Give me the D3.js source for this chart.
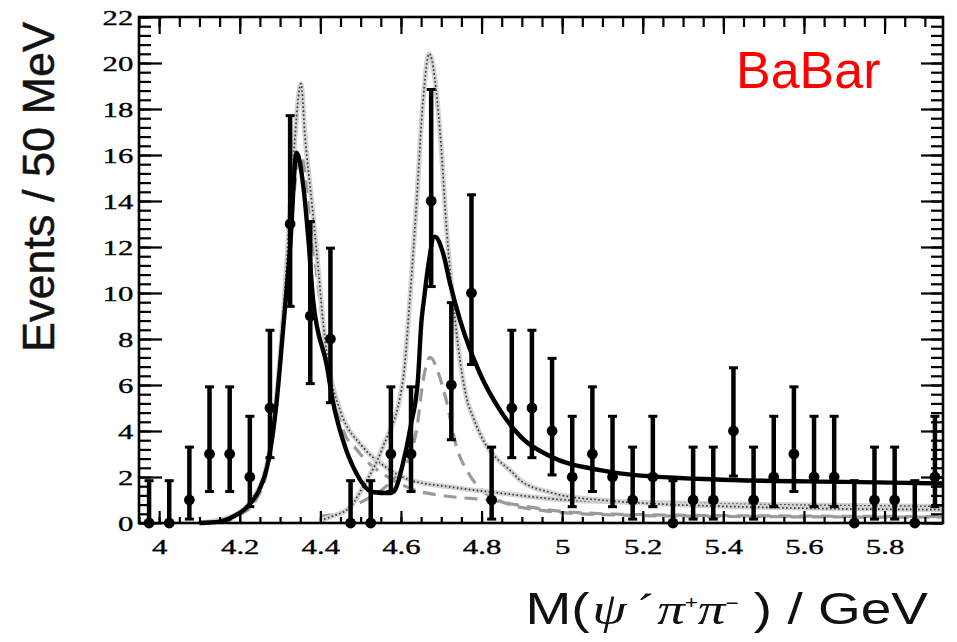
<!DOCTYPE html>
<html>
<head>
<meta charset="utf-8">
<script src="https://cdn.jsdelivr.net/npm/d3@7"></script>
<style>
  html, body { margin: 0; padding: 0; background: #fff; }
  svg { display: block; }
</style>
</head>
<body>
<svg id="chart" width="957" height="642"></svg>
<script>
// ψ(2S)π+π− invariant-mass spectrum, 50 MeV bins
const binCenters = [3.975, 4.025, 4.075, 4.125, 4.175, 4.225, 4.275, 4.325, 4.375, 4.425,
                    4.475, 4.525, 4.575, 4.625, 4.675, 4.725, 4.775, 4.825, 4.875, 4.925,
                    4.975, 5.025, 5.075, 5.125, 5.175, 5.225, 5.275, 5.325, 5.375, 5.425,
                    5.475, 5.525, 5.575, 5.625, 5.675, 5.725, 5.775, 5.825, 5.875, 5.925];
const counts     = [0, 0, 1, 3, 3, 2, 5, 13, 9, 8,
                    0, 0, 3, 3, 14, 6, 10, 1, 5, 5,
                    4, 2, 3, 2, 1, 2, 0, 1, 1, 4,
                    1, 2, 3, 2, 2, 0, 1, 1, 0, 2];
// upper / lower ends of the error bars
const errTop     = [1.84, 1.84, 3.30, 5.92, 5.92, 4.64, 8.38, 17.71, 13.11, 11.95,
                    1.84, 1.84, 5.92, 5.92, 18.85, 9.58, 14.27, 3.30, 8.38, 8.38,
                    7.16, 4.64, 5.92, 4.64, 3.30, 4.64, 1.84, 3.30, 3.30, 6.75,
                    3.30, 4.64, 5.92, 4.64, 4.64, 1.84, 3.30, 3.30, 1.84, 4.64];
const errBottom  = [0, 0, 0.17, 1.37, 1.37, 0.71, 2.84, 9.42, 6.06, 5.23,
                    0, 0, 1.37, 1.37, 10.28, 3.62, 6.89, 0.17, 2.84, 2.84,
                    2.09, 0.71, 1.37, 0.71, 0.17, 0.71, 0, 0.17, 0.17, 2.04,
                    0.17, 0.71, 1.37, 0.71, 0.71, 0, 0.17, 0.17, 0, 0.71];

// fitted curves, sampled as [mass, events]
const fitTotal = [[4.10,0.0],[4.15,0.06],[4.183,0.27],[4.223,0.78],[4.25,1.5],[4.268,2.45],[4.292,5.35],
  [4.307,8.3],[4.325,12.0],[4.341,16.1],[4.358,14.6],[4.37,12.4],[4.382,9.7],[4.4165,6.8],[4.431,5.3],
  [4.456,3.6],[4.489,2.17],[4.529,1.35],[4.573,1.3],[4.585,1.43],[4.605,2.6],[4.625,4.3],[4.642,6.2],
  [4.651,8.8],[4.657,9.7],[4.667,11.1],[4.684,12.45],[4.705,11.7],[4.722,10.4],[4.747,8.8],[4.796,6.5],
  [4.846,4.9],[4.9,3.7],[4.97,2.9],[5.094,2.3],[5.176,2.09],[5.424,1.87],[5.7,1.79],[5.945,1.72]];
const peak1Dotted = [[4.10,0.0],[4.183,0.3],[4.223,0.85],[4.268,2.6],[4.292,5.6],[4.31,9.6],[4.33,15.0],
  [4.352,19.1],[4.362,16.8],[4.379,13.9],[4.395,11.0],[4.407,8.7],[4.424,6.5],[4.449,4.9],[4.506,3.3],
  [4.565,2.4],[4.622,1.87],[4.722,1.57],[4.846,1.3],[5.012,1.0],[5.25,0.88],[5.5,0.8],[5.945,0.72]];
const peak2Dotted = [[4.40,0.1],[4.424,0.26],[4.474,0.7],[4.506,1.57],[4.555,3.3],[4.605,6.2],[4.622,9.7],
  [4.639,14.0],[4.655,18.4],[4.67,20.4],[4.697,17.0],[4.714,12.6],[4.729,9.7],[4.764,5.35],[4.779,4.6],
  [4.814,3.3],[4.838,2.8],[4.878,2.17],[4.895,1.87],[4.977,1.3],[5.094,1.0],[5.5,0.68],[5.945,0.58]];
const peak1Dashed = [[4.15,0.0],[4.20,0.35],[4.24,1.0],[4.27,2.5],[4.29,5.3],[4.31,9.0],[4.33,13.5],
  [4.35,16.0],[4.365,15.0],[4.38,12.5],[4.40,9.5],[4.42,7.0],[4.44,5.2],[4.46,3.9],[4.49,3.2],[4.52,2.6],
  [4.55,2.2],[4.58,1.87],[4.64,1.4],[4.70,1.2],[4.75,1.1],[4.82,1.0],[4.90,0.75],[5.0,0.5],[5.2,0.36],
  [5.6,0.3],[5.945,0.28]];
const peak2Dashed = [[4.40,0.3],[4.45,0.45],[4.50,0.9],[4.55,1.4],[4.60,2.3],[4.625,3.0],[4.64,4.2],
  [4.655,6.2],[4.672,7.2],[4.697,6.3],[4.71,5.5],[4.738,3.3],[4.77,2.1],[4.81,1.3],[4.87,0.8],[4.95,0.55],
  [5.05,0.4],[5.3,0.3],[5.945,0.25]];

const xMajor = [4.0, 4.2, 4.4, 4.6, 4.8, 5.0, 5.2, 5.4, 5.6, 5.8];
const xMajorLabels = ["4", "4.2", "4.4", "4.6", "4.8", "5", "5.2", "5.4", "5.6", "5.8"];
const yMajor = [0, 2, 4, 6, 8, 10, 12, 14, 16, 18, 20, 22];

(function draw() {
  const svg = d3.select("#chart");
  const frame = { left: 139, right: 943, top: 17, bottom: 523 };

  const x = d3.scaleLinear().domain([3.95, 5.945]).range([frame.left, frame.right]);
  const y = d3.scaleLinear().domain([0, 22]).range([frame.bottom, frame.top]);

  const xMinor = d3.range(80).map(i => 3.95 + i * 0.05).filter(v => v <= 5.945 + 1e-9);
  const yMinor = d3.range(56).map(i => i * 0.4).filter(v => v <= 22 + 1e-9);

  const plot = svg.append("g");

  // ---- curves ----
  const line = d3.line().x(d => x(d[0])).y(d => y(d[1])).curve(d3.curveMonotoneX);

  function dashedCurve(data) {
    plot.append("path").attr("d", line(data)).attr("fill", "none")
      .attr("stroke", "#9a9a9a").attr("stroke-width", 3.2)
      .attr("stroke-dasharray", "13,8");
  }
  function dottedCurve(data) {
    plot.append("path").attr("d", line(data)).attr("fill", "none")
      .attr("stroke", "#d2d2d2").attr("stroke-width", 5);
    plot.append("path").attr("d", line(data)).attr("fill", "none")
      .attr("stroke", "#383838").attr("stroke-width", 1.7)
      .attr("stroke-dasharray", "1.6,2.4");
  }
  dashedCurve(peak1Dashed);
  dashedCurve(peak2Dashed);
  dottedCurve(peak1Dotted);
  dottedCurve(peak2Dotted);

  plot.append("path").attr("d", line(fitTotal)).attr("fill", "none")
    .attr("stroke", "#000").attr("stroke-width", 4.4).attr("stroke-linejoin", "round");

  // ---- data points with error bars ----
  const pts = plot.append("g").selectAll("g").data(binCenters).join("g");
  pts.append("line")
    .attr("x1", d => x(d)).attr("x2", d => x(d))
    .attr("y1", (d, i) => y(errTop[i])).attr("y2", (d, i) => y(errBottom[i]))
    .attr("stroke", "#000").attr("stroke-width", 4.5);
  pts.append("line")
    .attr("x1", d => x(d) - 4.5).attr("x2", d => x(d) + 4.5)
    .attr("y1", (d, i) => y(errTop[i])).attr("y2", (d, i) => y(errTop[i]))
    .attr("stroke", "#000").attr("stroke-width", 3);
  pts.append("line")
    .attr("x1", d => x(d) - 4.5).attr("x2", d => x(d) + 4.5)
    .attr("y1", (d, i) => y(errBottom[i])).attr("y2", (d, i) => y(errBottom[i]))
    .attr("stroke", "#000").attr("stroke-width", 3);
  pts.append("circle")
    .attr("cx", d => x(d)).attr("cy", (d, i) => y(counts[i]))
    .attr("r", 5.4).attr("fill", "#000");

  // ---- axes (ticks point into the frame) ----
  const tickFont = "'Liberation Serif', 'Times New Roman', serif";
  function styleAxis(g) {
    g.select(".domain").remove();
    g.selectAll(".tick line").attr("stroke", "#000").attr("stroke-width", 2.2);
    g.selectAll(".tick text").attr("font-family", tickFont).attr("font-size", 22)
      .attr("fill", "#000").attr("stroke", "#000").attr("stroke-width", 0.35)
      .attr("transform", "scale(1.4,1)");
  }

  svg.append("g").attr("transform", `translate(0,${frame.bottom})`)
    .call(d3.axisBottom(x).tickValues(xMinor).tickSize(-6).tickFormat(""))
    .call(styleAxis);
  svg.append("g").attr("transform", `translate(0,${frame.bottom})`)
    .call(d3.axisBottom(x).tickValues(xMajor).tickSize(-12).tickPadding(15)
          .tickFormat((d, i) => xMajorLabels[i]))
    .call(styleAxis);

  svg.append("g").attr("transform", `translate(0,${frame.top})`)
    .call(d3.axisTop(x).tickValues(xMinor).tickSize(-10).tickFormat(""))
    .call(styleAxis);
  svg.append("g").attr("transform", `translate(0,${frame.top})`)
    .call(d3.axisTop(x).tickValues(xMajor).tickSize(-17).tickFormat(""))
    .call(styleAxis);

  svg.append("g").attr("transform", `translate(${frame.left},0)`)
    .call(d3.axisLeft(y).tickValues(yMinor).tickSize(-12).tickFormat(""))
    .call(styleAxis);
  svg.append("g").attr("transform", `translate(${frame.left},0)`)
    .call(d3.axisLeft(y).tickValues(yMajor).tickSize(-23).tickPadding(4).tickFormat(d3.format("d")))
    .call(styleAxis);

  svg.append("g").attr("transform", `translate(${frame.right},0)`)
    .call(d3.axisRight(y).tickValues(yMinor).tickSize(-12).tickFormat(""))
    .call(styleAxis);
  svg.append("g").attr("transform", `translate(${frame.right},0)`)
    .call(d3.axisRight(y).tickValues(yMajor).tickSize(-22).tickFormat(""))
    .call(styleAxis);

  // frame
  svg.append("rect").attr("x", frame.left).attr("y", frame.top)
    .attr("width", frame.right - frame.left).attr("height", frame.bottom - frame.top)
    .attr("fill", "none").attr("stroke", "#000").attr("stroke-width", 2.6);

  // ---- titles ----
  const sans = "'Liberation Sans', Arial, sans-serif";
  svg.append("text")
    .attr("transform", "translate(54,187) rotate(-90)")
    .attr("text-anchor", "middle")
    .attr("font-family", sans).attr("font-size", 45).attr("fill", "#111")
    .attr("stroke", "#111").attr("stroke-width", 0.5)
    .text("Events / 50 MeV");

  svg.append("text")
    .attr("x", 736).attr("y", 88)
    .attr("font-family", sans).attr("font-size", 52).attr("fill", "#ff0000")
    .text("BaBar");

  const xt = svg.append("text").attr("transform", "translate(928,624) scale(1.25,1)")
    .attr("text-anchor", "end")
    .attr("font-family", sans).attr("font-size", 44).attr("fill", "#111");
  xt.append("tspan").text("M(");
  xt.append("tspan").attr("font-family", tickFont).attr("font-style", "italic").attr("dx", 2).text("ψ");
  xt.append("tspan").attr("font-family", tickFont).attr("dx", 8).text("´");
  xt.append("tspan").attr("font-family", tickFont).attr("font-style", "italic").attr("dx", 2).text("π");
  xt.append("tspan").attr("font-size", 18).attr("dx", 0).attr("dy", -15).text("+");
  xt.append("tspan").attr("font-family", tickFont).attr("font-style", "italic").attr("dy", 15).text("π");
  xt.append("tspan").attr("font-size", 18).attr("dx", 0).attr("dy", -15).text("−");
  xt.append("tspan").attr("dy", 15).text("\u00a0) / GeV");
})();
</script>
</body>
</html>
